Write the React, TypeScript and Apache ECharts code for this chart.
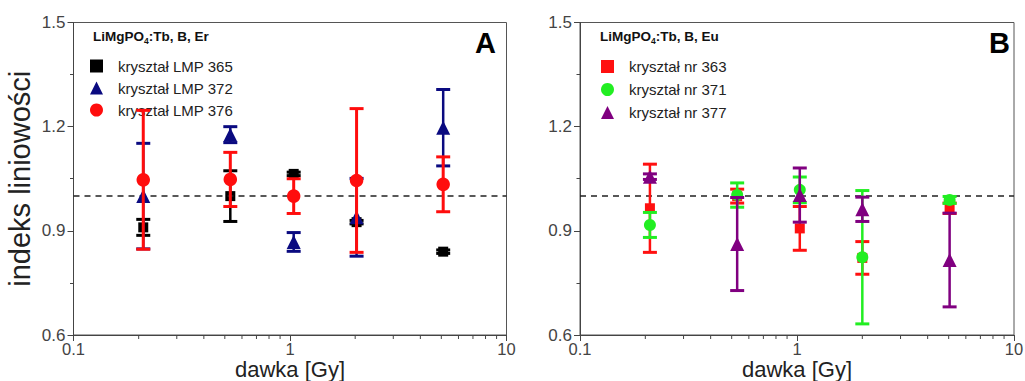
import React, { useEffect, useRef } from "react";
import * as echarts from "echarts";

// ---- data ----
const doseA = [0.21, 0.53, 1.04, 2.03, 5.1];
const doseB = [0.21, 0.53, 1.03, 2.0, 5.05];

const lmp365 = [0.91, 1.0, 1.064, 0.925, 0.84];
const lmp365Err = [0.023, 0.073, 0.005, 0.005, 0.005];
const lmp372 = [1.0, 1.177, 0.868, 0.939, 1.197];
const lmp372Err = [0.152, 0.023, 0.027, 0.112, 0.11];
const lmp376 = [1.047, 1.048, 1.0, 1.045, 1.034];
const lmp376Err = [0.2, 0.078, 0.05, 0.207, 0.079];

const nr363 = [0.965, 1.0, 0.907, 0.822, 0.965];
const nr363Err = [0.127, 0.02, 0.063, 0.047, 0.015];
const nr371 = [0.917, 1.003, 1.018, 0.824, 0.989];
const nr371Err = [0.036, 0.035, 0.037, 0.192, 0.01];
const nr377 = [1.056, 0.862, 1.003, 0.962, 0.816];
const nr377Err = [0.008, 0.134, 0.078, 0.035, 0.135];

const minorTicksX = [0.2, 0.3, 0.4, 0.5, 0.6, 0.7, 0.8, 0.9, 2, 3, 4, 5, 6, 7, 8, 9];
const yTicks = { min: 0.6, max: 1.5, interval: 0.3 };
const refLine = 1.0;

const FONT = "Liberation Sans, Arial, sans-serif";

type SeriesDef = {
  name: string;
  dose: number[];
  vals: number[];
  errs: number[];
  color: string;
  symbol: string;
  size: number;
  lw: number;
  grid: number;
};

const defs: SeriesDef[] = [
  { name: "kryształ LMP 365", dose: doseA, vals: lmp365, errs: lmp365Err, color: "#000000", symbol: "rect", size: 10, lw: 2.5, grid: 0 },
  { name: "kryształ LMP 372", dose: doseA, vals: lmp372, errs: lmp372Err, color: "#0a0a80", symbol: "triangle", size: 14, lw: 2.5, grid: 0 },
  { name: "kryształ LMP 376", dose: doseA, vals: lmp376, errs: lmp376Err, color: "#ff0d0d", symbol: "circle", size: 13.5, lw: 3, grid: 0 },
  { name: "kryształ nr 363", dose: doseB, vals: nr363, errs: nr363Err, color: "#ff1010", symbol: "rect", size: 10, lw: 2.5, grid: 1 },
  { name: "kryształ nr 371", dose: doseB, vals: nr371, errs: nr371Err, color: "#22ee22", symbol: "circle", size: 12, lw: 2.5, grid: 1 },
  { name: "kryształ nr 377", dose: doseB, vals: nr377, errs: nr377Err, color: "#800080", symbol: "triangle", size: 14, lw: 2.5, grid: 1 },
];

function buildOption() {
  const series: any[] = [];
  defs.forEach((d, i) => {
    series.push({
      type: "custom",
      name: d.name + "-err",
      xAxisIndex: d.grid,
      yAxisIndex: d.grid,
      z: 3 + i * 2,
      silent: true,
      encode: { x: 0, y: [1, 2] },
      data: d.dose.map((x, k) => [x, d.vals[k] - d.errs[k], d.vals[k] + d.errs[k]]),
      renderItem: (params: any, api: any) => {
        const x = api.value(0);
        const lo = api.coord([x, api.value(1)]);
        const hi = api.coord([x, api.value(2)]);
        const hw = 7;
        const st = { stroke: d.color, lineWidth: d.lw };
        return {
          type: "group",
          children: [
            { type: "line", shape: { x1: lo[0], y1: lo[1], x2: hi[0], y2: hi[1] }, style: st },
            { type: "line", shape: { x1: lo[0] - hw, y1: lo[1], x2: lo[0] + hw, y2: lo[1] }, style: { ...st, lineWidth: 3 } },
            { type: "line", shape: { x1: hi[0] - hw, y1: hi[1], x2: hi[0] + hw, y2: hi[1] }, style: { ...st, lineWidth: 3 } },
          ],
        };
      },
    });
    series.push({
      type: "scatter",
      name: d.name,
      xAxisIndex: d.grid,
      yAxisIndex: d.grid,
      z: 4 + i * 2,
      symbol: d.symbol,
      symbolSize: d.size,
      itemStyle: { color: d.color, opacity: 1 },
      data: d.dose.map((x, k) => [x, d.vals[k]]),
      markLine:
        i % 3 === 0
          ? {
              silent: true,
              symbol: "none",
              label: { show: false },
              lineStyle: { color: "#222", type: [6, 5], width: 1.5 },
              data: [{ yAxis: refLine }],
            }
          : undefined,
    });
  });
  [0, 1].forEach((g) => {
    series.push({
      type: "custom",
      name: "minor" + g,
      xAxisIndex: g,
      yAxisIndex: g,
      silent: true,
      z: 1,
      data: minorTicksX.map((x) => [x, yTicks.min]),
      renderItem: (params: any, api: any) => {
        const p = api.coord([api.value(0), api.value(1)]);
        return {
          type: "line",
          shape: { x1: p[0], y1: p[1], x2: p[0], y2: p[1] + 4 },
          style: { stroke: "#444", lineWidth: 1 },
        };
      },
    });
  });

  const grids = [
    { left: 73.5, top: 22.5, width: 433, height: 312.5 },
    { left: 580, top: 22.5, width: 434, height: 312.5 },
  ];

  const xAxes = [0, 1].map((g) => ({
    type: "log",
    gridIndex: g,
    min: 0.1,
    max: 10,
    logBase: 10,
    name: "dawka [Gy]",
    nameLocation: "middle",
    nameGap: 25,
    nameMoveOverlap: false,
    nameTextStyle: { fontSize: 22, lineHeight: 18, color: "#222", fontFamily: FONT },
    axisLine: { show: true, lineStyle: { color: "#444", width: 1 } },
    axisTick: { show: true, length: 6, lineStyle: { color: "#444" } },
    axisLabel: {
      fontSize: 16.5,
      lineHeight: 16,
      color: "#444",
      fontFamily: FONT,
      margin: 6,
      formatter: (v: number) => String(parseFloat(v.toPrecision(3))),
    },
    splitLine: { show: false },
  }));

  const yAxes = [0, 1].map((g) => ({
    type: "value",
    gridIndex: g,
    min: yTicks.min,
    max: yTicks.max,
    interval: yTicks.interval,
    name: g === 0 ? "indeks liniowości" : "",
    nameLocation: "middle",
    nameGap: 39,
    nameMoveOverlap: false,
    nameTextStyle: { fontSize: 29, color: "#222", fontFamily: FONT },
    axisLine: { show: true, lineStyle: { color: "#444", width: 1 } },
    axisTick: { show: true, length: 6, lineStyle: { color: "#444" } },
    minorTick: { show: true, splitNumber: 2, length: 3.5, lineStyle: { color: "#444" } },
    axisLabel: {
      fontSize: 17,
      color: "#444",
      fontFamily: FONT,
      margin: 8,
      formatter: (v: number) => v.toFixed(1),
    },
    splitLine: { show: false },
  }));

  const rich = {
    a: { fontSize: 13.5, fontWeight: "bold", color: "#111", fontFamily: FONT, lineHeight: 16 },
    s: { fontSize: 8.5, fontWeight: "bold", color: "#111", fontFamily: FONT, padding: [9, 0, 0, 0] },
  };

  const legendCommon = {
    orient: "vertical",
    itemWidth: 13,
    itemHeight: 13,
    selectedMode: false,
    textStyle: { fontSize: 15, lineHeight: 15, color: "#222", fontFamily: FONT, padding: [0, 0, 0, 10] },
  };

  return {
    animation: false,
    grid: grids.map((gr) => ({ ...gr, show: true, borderColor: "#555", borderWidth: 1, outerBoundsMode: "none", containLabel: false })),
    xAxis: xAxes,
    yAxis: yAxes,
    title: [
      { text: "{a|LiMgPO}{s|4}{a|:Tb, B, Er}", left: 88, top: 22, textStyle: { rich } },
      { text: "{a|LiMgPO}{s|4}{a|:Tb, B, Eu}", left: 595, top: 22, textStyle: { rich } },
      { text: "A", left: 470, top: 23, textStyle: { fontSize: 29, fontWeight: "bold", color: "#000", fontFamily: FONT } },
      { text: "B", left: 984, top: 23, textStyle: { fontSize: 29, fontWeight: "bold", color: "#000", fontFamily: FONT } },
    ],
    legend: [
      {
        ...legendCommon,
        data: defs.filter((d) => d.grid === 0).map((d) => d.name),
        left: 85,
        top: 53.5,
        itemGap: 7,
      },
      {
        ...legendCommon,
        data: defs.filter((d) => d.grid === 1).map((d) => d.name),
        left: 596,
        top: 54,
        itemGap: 8,
      },
    ],
    series,
  };
}

export default function App() {
  const ref = useRef<HTMLDivElement>(null);
  useEffect(() => {
    document.body.style.margin = "0";
    const chart = echarts.init(ref.current!, null, { renderer: "svg" });
    chart.setOption(buildOption() as any);
    return () => chart.dispose();
  }, []);
  return <div ref={ref} style={{ width: 1025, height: 381, background: "#fff" }} />;
}
